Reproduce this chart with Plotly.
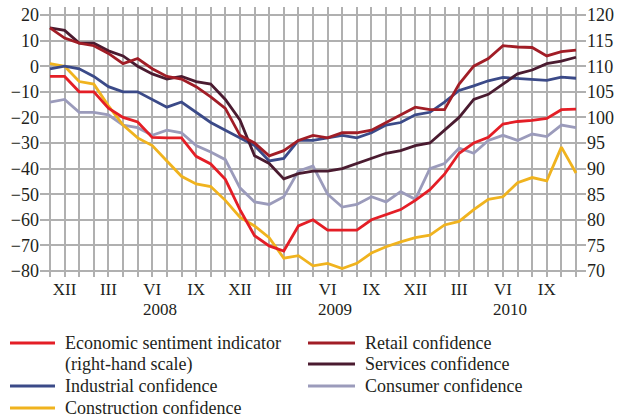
import plotly.graph_objects as go

months = list(range(37))  # XI 2007 .. XI 2010
month_tick_vals = [1, 4, 7, 10, 13, 16, 19, 22, 25, 28, 31, 34]
month_tick_text = ["XII", "III", "VI", "IX", "XII", "III", "VI", "IX", "XII", "III", "VI", "IX"]
year_pos = [7.5, 19.5, 31.5]
year_text = ["2008", "2009", "2010"]

esi = [108, 108, 105, 105, 101.8, 100, 99.1, 96.1, 96, 96, 92.4, 90.9, 87.9, 82, 76.9, 74.9,
       73.9, 78.8, 80, 78, 78, 78, 80, 81, 82, 83.8, 85.9, 88.9, 93, 95, 96.1, 98.7, 99.2,
       99.4, 99.8, 101.5, 101.6]
industrial = [-1, 0, -1, -4, -8, -10, -10, -13, -16, -14, -18, -22, -25, -28, -31, -37, -36,
              -29, -29, -28, -27, -28, -26, -23, -22, -19, -18, -14, -9.5, -7.7, -5.7, -4.4,
              -4.8, -5.3, -5.5, -4.3, -4.7]
construction = [1, 0, -6, -7, -15.5, -23, -28, -31, -37, -43, -46, -47, -52.4, -59, -62.4, -67,
                -75, -74, -78, -77, -79, -77, -73, -70.5, -68.6, -67, -66, -62, -60.6, -56,
                -52, -51, -45.5, -43.5, -44.8, -31.6, -41.7]
retail = [15, 11, 9, 8, 5, 1, 3, -1, -4, -5, -8, -12, -16.5, -27, -30, -35, -33, -29, -27, -28,
          -26, -26, -25, -22, -19, -16, -17, -17, -7, 0, 3, 8, 7.5, 7.3, 4, 5.7, 6.3]
services = [15, 14, 9, 9, 6, 4, 0, -3, -5, -4, -6, -7, -13, -21, -35, -38, -44, -42, -41, -41,
            -40, -38, -36, -34, -33, -31, -30, -25, -20, -13, -11, -7, -3, -1.5, 1, 2, 3.5]
consumer = [-14, -13, -18, -18, -19, -23, -24, -27, -25, -26, -31, -33.5, -36.5, -47.5, -53,
            -54, -51, -41, -39, -50, -55, -54, -51, -53, -49, -52, -40, -38, -32, -34, -29,
            -27, -29, -26.5, -27.5, -23, -24]

C_ESI = "#e41e26"
C_IND = "#3b4a88"
C_CON = "#f0b31e"
C_RET = "#a11d26"
C_SER = "#4a1b30"
C_CNS = "#9b9bbb"

FONT = "Liberation Serif, Times New Roman, serif"

fig = go.Figure()
series = [
    (consumer, C_CNS, "y"),
    (construction, C_CON, "y"),
    (industrial, C_IND, "y"),
    (services, C_SER, "y"),
    (retail, C_RET, "y"),
    (esi, C_ESI, "y2"),
]
for vals, col, ax in series:
    fig.add_trace(go.Scatter(x=months, y=vals, mode="lines", yaxis=ax,
                             line=dict(color=col, width=2.8), showlegend=False,
                             hoverinfo="skip"))

grid_col = "#b0b0b0"
fig.update_layout(
    width=619, height=419,
    margin=dict(l=40, r=33, t=7, b=142),
    plot_bgcolor="white", paper_bgcolor="white",
    font=dict(family=FONT, size=18, color="#231f20"),
    xaxis=dict(range=[-0.684, 36.684], tickvals=months,
               ticktext=[month_tick_text[month_tick_vals.index(m)] if m in month_tick_vals else "" for m in months],
               showgrid=True, gridcolor=grid_col, gridwidth=1.5, zeroline=False,
               showline=False, ticks="", tickfont=dict(size=17), automargin=False),
    yaxis=dict(range=[-82.34, 23.125], tickvals=list(range(-80, 21, 10)),
               ticktext=[("\u2212" + str(-v)) if v < 0 else str(v) for v in range(-80, 21, 10)],
               showgrid=True, gridcolor=grid_col, gridwidth=1.5, zeroline=False,
               showline=False, ticks="", tickfont=dict(size=18), automargin=False),
    yaxis2=dict(range=[68.83, 121.56], overlaying="y", side="right",
                tickvals=list(range(70, 121, 5)), showgrid=False, zeroline=False,
                showline=False, ticks="", tickfont=dict(size=18), automargin=False),
)

for xp, t in zip(year_pos, year_text):
    fig.add_annotation(x=xp, y=-0.122, xref="x", yref="paper", text=t, showarrow=False,
                       xanchor="center", yanchor="middle", font=dict(size=17))

# manual legend
W, H0, PH = 546.0, 277.0, 270.0
def px(x):
    return (x - 40) / W
def py(y):
    return -(y - H0) / PH

legend_items = [
    (10, 55, 63, 343, C_ESI, "Economic sentiment indicator"),
    (None, None, 63, 364, None, "(right-hand scale)"),
    (10, 55, 63, 386, C_IND, "Industrial confidence"),
    (10, 55, 63, 408, C_CON, "Construction confidence"),
    (308, 355, 363, 343, C_RET, "Retail confidence"),
    (308, 355, 363, 364, C_SER, "Services confidence"),
    (308, 355, 363, 386, C_CNS, "Consumer confidence"),
]
for x0, x1, tx, yy, col, text in legend_items:
    if col is not None:
        fig.add_shape(type="line", xref="paper", yref="paper", x0=px(x0), x1=px(x1),
                      y0=py(yy), y1=py(yy), line=dict(color=col, width=3))
    fig.add_annotation(x=px(tx), y=py(yy), xref="paper", yref="paper", text=text,
                       showarrow=False, xanchor="left", yanchor="middle",
                       font=dict(size=18))

fig.write_html("out.html", config={"displayModeBar": False},
               post_script="document.body.style.margin='0';document.body.style.overflow='hidden';")
